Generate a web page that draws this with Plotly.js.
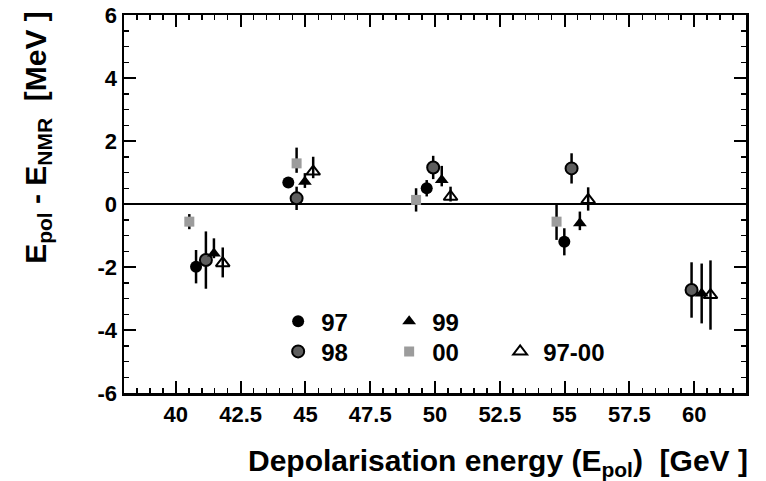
<!DOCTYPE html>
<html>
<head>
<meta charset="utf-8">
<script src="https://cdn.plot.ly/plotly-3.0.1.min.js"></script>
<style>html,body{margin:0;padding:0;background:#fff}#chart{width:766px;height:481px}</style>
</head>
<body>
<div id="chart"></div>
<script>
window.addEventListener('error', function (e) { console.error('ERR', e.message); });
window.addEventListener('unhandledrejection', function (e) { console.error('REJ', e.reason && (e.reason.stack || e.reason)); });

// ---- data ----
const x97   = [40.78, 44.34, 49.68, 54.99];
const y97   = [-1.99, 0.68, 0.50, -1.20];
const up97  = [0.53, 0.15, 0.26, 0.43];
const dn97  = [0.53, 0.15, 0.26, 0.43];

const x98   = [41.16, 44.66, 49.93, 55.27, 59.90];
const y98   = [-1.78, 0.18, 1.16, 1.13, -2.73];
const up98  = [0.91, 0.37, 0.37, 0.48, 0.88];
const dn98  = [0.91, 0.37, 0.37, 0.48, 0.88];

const x99   = [41.47, 44.98, 50.26, 55.59, 60.29];
const y99   = [-1.57, 0.71, 0.76, -0.61, -2.84];
const up99  = [0.48, 0.27, 0.45, 0.37, 0.95];
const dn99  = [0.15, 0.20, 0.20, 0.22, 0.95];

const x00   = [40.52, 44.66, 49.27, 54.69];
const y00   = [-0.56, 1.29, 0.13, -0.56];
const up00  = [0.24, 0.50, 0.37, 0.53];
const dn00  = [0.24, 0.30, 0.37, 0.58];

const xAll  = [41.81, 45.30, 50.60, 55.91, 60.63];
const yAll  = [-1.88, 1.03, 0.23, 0.13, -2.89];
const upAll = [0.50, 0.47, 0.32, 0.40, 1.10];
const dnAll = [0.45, 0.21, 0.15, 0.34, 1.10];

const seriesNames = ['97', '98', '99', '00', '97-00'];

const xTickVals = [40, 42.5, 45, 47.5, 50, 52.5, 55, 57.5, 60];
const xTickText = ['40', '42.5', '45', '47.5', '50', '52.5', '55', '57.5', '60'];
const yTickVals = [-6, -4, -2, 0, 2, 4, 6];
const yTickText = ['-6', '-4', '-2', '0', '2', '4', '6'];

// ---- styling ----
const FONT = 'Liberation Sans, Arial, Helvetica, sans-serif';

function err(up, dn) {
  return {type: 'data', symmetric: false, array: up, arrayminus: dn,
          color: '#000', thickness: 2.5, width: 0};
}

const traces = [
  {x: x00, y: y00, name: seriesNames[3], legend: 'legend2', legendrank: 2,
   type: 'scatter', mode: 'markers', error_y: err(up00, dn00),
   marker: {symbol: 'square', size: 10, color: '#9c9c9c', line: {width: 0}}},
  {x: x97, y: y97, name: seriesNames[0], legend: 'legend', legendrank: 1,
   type: 'scatter', mode: 'markers', error_y: err(up97, dn97),
   marker: {symbol: 'circle', size: 12, color: '#000', line: {width: 0}}},
  {x: x98, y: y98, name: seriesNames[1], legend: 'legend2', legendrank: 1,
   type: 'scatter', mode: 'markers', error_y: err(up98, dn98),
   marker: {symbol: 'circle', size: 12, color: '#5e5e5e', line: {width: 2, color: '#000'}}},
  {x: x99, y: y99, name: seriesNames[2], legend: 'legend', legendrank: 2,
   type: 'scatter', mode: 'markers', error_y: err(up99, dn99),
   marker: {symbol: 'triangle-up', size: 12, color: '#000', line: {width: 0}}},
  {x: xAll, y: yAll, name: seriesNames[4], legend: 'legend2', legendrank: 3,
   type: 'scatter', mode: 'markers', error_y: err(upAll, dnAll),
   marker: {symbol: 'triangle-up-open', size: 12, color: '#000', line: {width: 2, color: '#000'}}}
];

const axisCommon = {
  showgrid: false, showline: true, linecolor: '#000', linewidth: 2.5,
  mirror: 'ticks', ticks: 'inside', ticklen: 12, tickwidth: 2, tickcolor: '#000',
  tickfont: {family: FONT, size: 22, color: '#000', weight: 'bold'},
  tickmode: 'array'
};

const legendCommon = {
  orientation: 'h', xanchor: 'left', yanchor: 'middle',
  bgcolor: 'rgba(0,0,0,0)', borderwidth: 0,
  font: {family: FONT, size: 24, color: '#000', weight: 'bold'},
  entrywidth: 60, entrywidthmode: 'pixels', itemwidth: 36, traceorder: 'normal'
};

const layout = {
  width: 766, height: 481,
  margin: {l: 124, r: 20, t: 15, b: 88, pad: 0},
  paper_bgcolor: '#fff', plot_bgcolor: '#fff',
  showlegend: true,
  xaxis: Object.assign({}, axisCommon, {
    range: [38, 62], tickvals: xTickVals, ticktext: xTickText, zeroline: false,
    minor: {tickmode: 'linear', tick0: 40, dtick: 0.5, ticks: 'inside', ticklen: 5, tickwidth: 1.5, tickcolor: '#000'}
  }),
  yaxis: Object.assign({}, axisCommon, {
    range: [-6, 6], tickvals: yTickVals, ticktext: yTickText,
    zeroline: true, zerolinecolor: '#000', zerolinewidth: 2,
    minor: {tickmode: 'linear', tick0: 0, dtick: 0.5, ticks: 'inside', ticklen: 5, tickwidth: 1.5, tickcolor: '#000'}
  }),
  legend: Object.assign({}, legendCommon, {x: 0.243, y: 0.189}),
  legend2: Object.assign({}, legendCommon, {x: 0.243, y: 0.109}),
  annotations: [
    {xref: 'paper', yref: 'paper', x: 0, y: 0.675, xshift: -86,
     xanchor: 'center', yanchor: 'middle', textangle: -90, showarrow: false,
     font: {family: FONT, size: 30, color: '#000', weight: 'bold'},
     text: 'E<sub>pol</sub> - E<sub>NMR</sub>  [MeV ]'},
    {xref: 'paper', yref: 'paper', x: 1, y: 0, xshift: 4, yshift: -69,
     xanchor: 'right', yanchor: 'middle', showarrow: false,
     font: {family: FONT, size: 30, color: '#000', weight: 'bold'},
     text: 'Depolarisation energy (E<sub>pol</sub>)  [GeV ]'}
  ]
};

Plotly.newPlot('chart', traces, layout, {staticPlot: true, displayModeBar: false})
  .catch(function (e) { console.error('PLOT', e && (e.stack || e)); });
</script>
</body>
</html>
